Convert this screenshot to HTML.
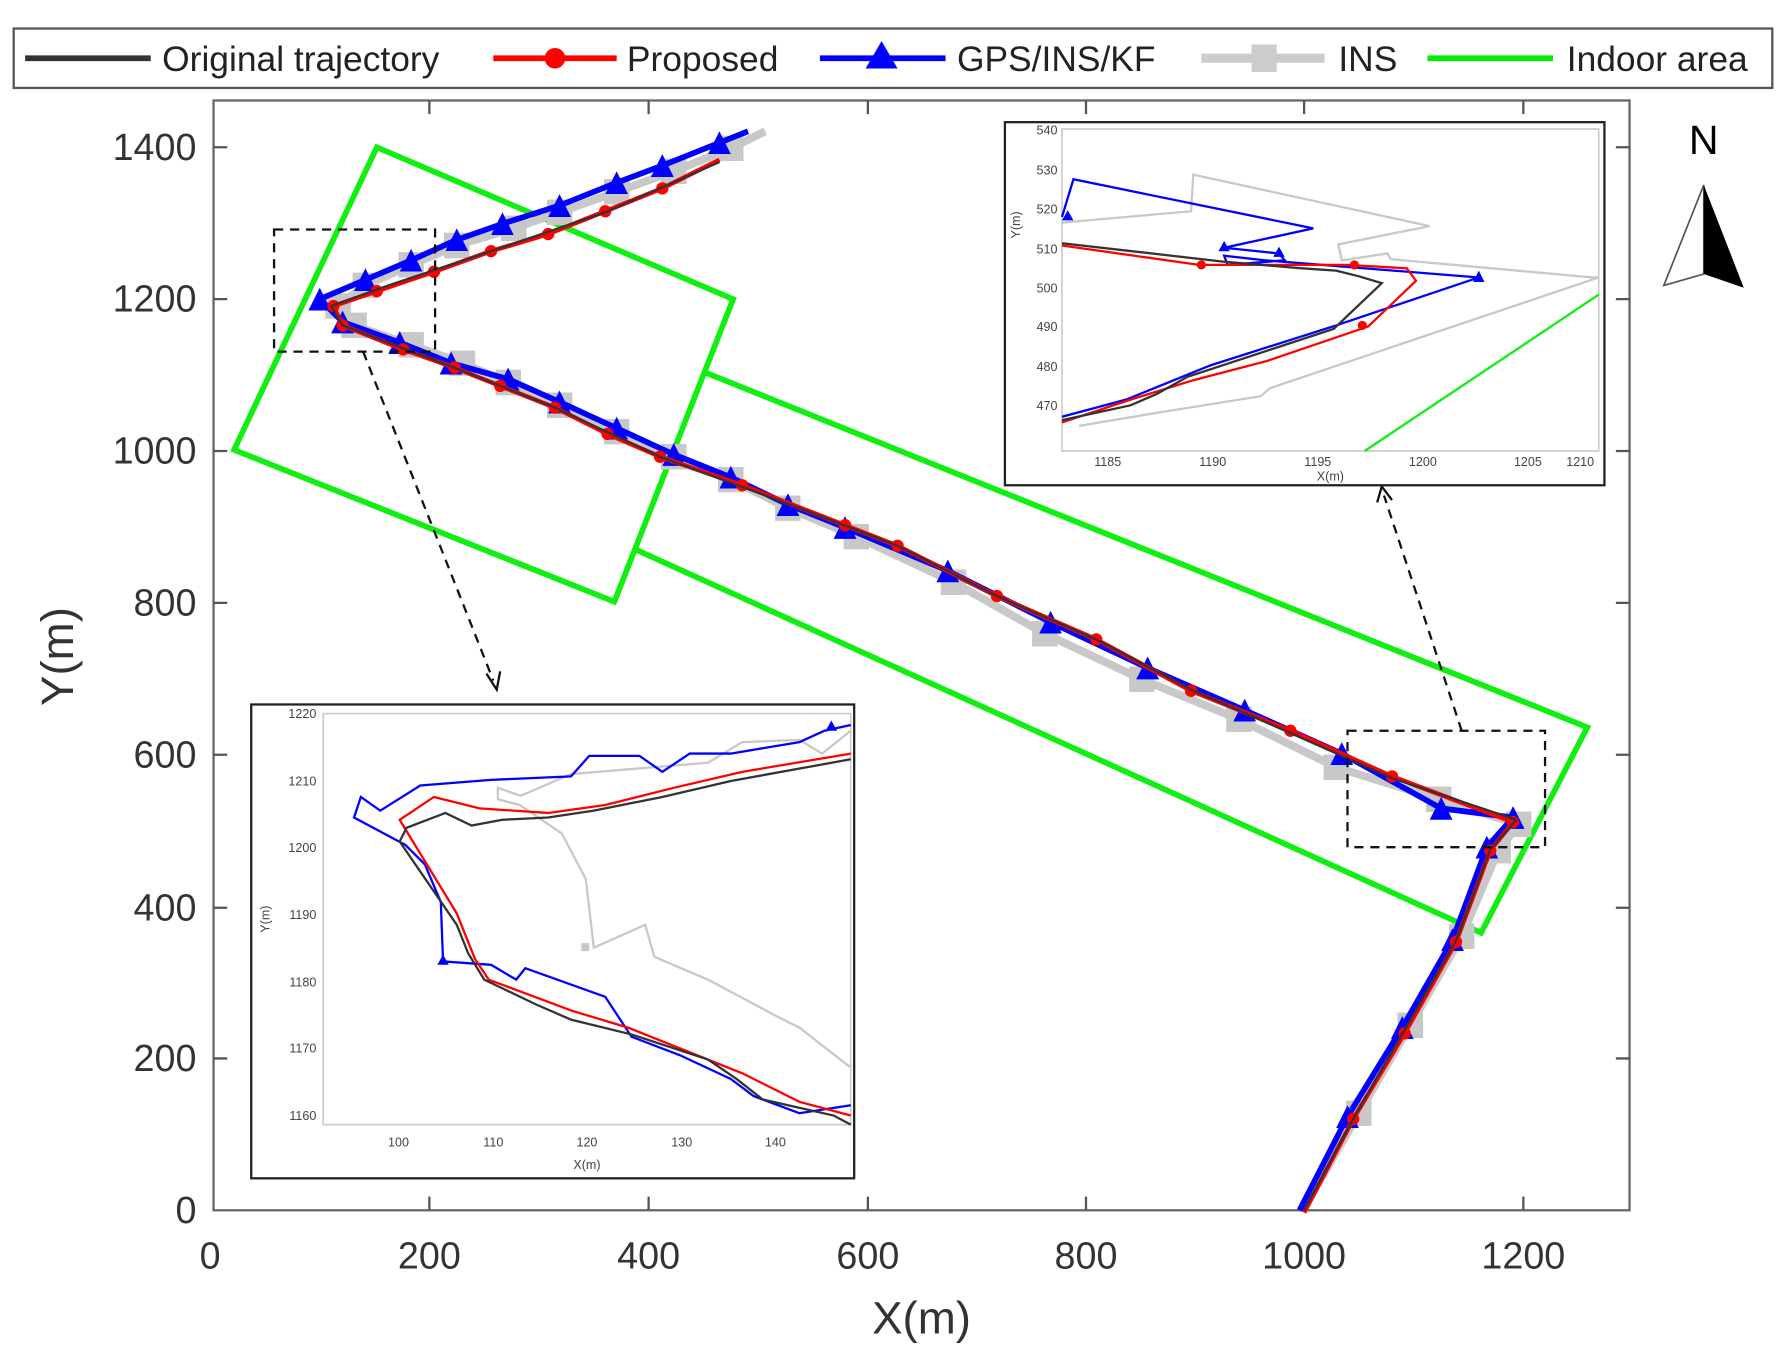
<!DOCTYPE html>
<html><head><meta charset="utf-8"><style>html,body{margin:0;padding:0;background:#fff}svg{display:block}</style></head>
<body>
<svg width="1786" height="1361" viewBox="0 0 1564 1192" preserveAspectRatio="none" xmlns="http://www.w3.org/2000/svg" font-family="Liberation Sans, sans-serif">
<defs>
<marker id="ci" viewBox="0 0 10 10" refX="5" refY="5" markerWidth="3" markerHeight="3"><circle cx="5" cy="5" r="4.5" fill="#f00"/></marker>
<marker id="tr" viewBox="0 0 10 10" refX="5" refY="5" markerWidth="4" markerHeight="4"><polygon points="5,0 10,10 0,10" fill="#00f"/></marker>
<marker id="sq" viewBox="0 0 10 10" refX="5" refY="5" markerWidth="3.2" markerHeight="3.2"><rect width="10" height="10" fill="#c8c8c8"/></marker>
</defs>
<!-- legend -->
<rect x="12" y="25" width="1540" height="52" fill="#fff" stroke="#555" stroke-width="2"/>
<g font-size="31" fill="#222">
<line x1="22" y1="51" x2="132" y2="51" stroke="#333" stroke-width="5"/><text x="142" y="62">Original trajectory</text>
<line x1="432" y1="51" x2="540" y2="51" stroke="#f00" stroke-width="5"/><circle cx="486" cy="51" r="9" fill="#f00"/><text x="549" y="62">Proposed</text>
<line x1="718" y1="51" x2="828" y2="51" stroke="#00f" stroke-width="5"/><polygon points="772,36 786,60 758,60" fill="#00f"/><text x="838" y="62">GPS/INS/KF</text>
<line x1="1052" y1="51" x2="1160" y2="51" stroke="#ccc" stroke-width="8"/><rect x="1096" y="39" width="22" height="24" fill="#ccc"/><text x="1172" y="62">INS</text>
<line x1="1250" y1="51" x2="1360" y2="51" stroke="#0e0" stroke-width="5"/><text x="1372" y="62">Indoor area</text>
</g>
<!-- axes -->
<rect x="187" y="88" width="1240" height="972" fill="none" stroke="#666" stroke-width="2"/>
<g stroke="#555" stroke-width="2">
<path d="M376 1060v-12M568 1060v-12M760 1060v-12M951 1060v-12M1142 1060v-12M1334 1060v-12M376 88v12M568 88v12M760 88v12M951 88v12M1142 88v12M1334 88v12"/>
<path d="M187 927h12M187 795h12M187 661h12M187 528h12M187 395h12M187 262h12M187 129h12M1427 927h-12M1427 795h-12M1427 661h-12M1427 528h-12M1427 395h-12M1427 262h-12M1427 129h-12"/>
</g>
<g font-size="33" fill="#333" text-anchor="middle">
<text x="184" y="1111">0</text><text x="376" y="1111">200</text><text x="568" y="1111">400</text><text x="760" y="1111">600</text><text x="951" y="1111">800</text><text x="1142" y="1111">1000</text><text x="1334" y="1111">1200</text>
</g>
<g font-size="33" fill="#333" text-anchor="end">
<text x="172" y="1071">0</text><text x="172" y="938">200</text><text x="172" y="806">400</text><text x="172" y="672">600</text><text x="172" y="539">800</text><text x="172" y="406">1000</text><text x="172" y="273">1200</text><text x="172" y="140">1400</text>
</g>
<text x="807" y="1168" font-size="40" fill="#333" text-anchor="middle">X(m)</text>
<text transform="translate(64,575) rotate(-90)" font-size="40" fill="#333" text-anchor="middle">Y(m)</text>
<!-- green -->
<g fill="none" stroke="#1e1" stroke-width="5">
<polygon points="330,129 642,262 538,527 205,394"/>
<polyline points="617,326 1390,637 1297,817 556,481"/>
</g>
<!-- trajectories -->
<g fill="none" stroke-linejoin="round">
<polyline stroke="#c8c8c8" stroke-width="7" marker-mid="url(#sq)" points="1142,1058 1190,975 1235,898 1280,820 1312,745 1330,722 1260,700 1170,672 1085,630 1000,595 915,555 835,510 750,470 690,445 640,420 590,400 540,378 490,355 445,335 405,318 360,302 310,285 296,268 320,250 360,232 400,215 450,200 490,186 540,168 590,150 640,130 670,115"/>
<polyline stroke="#00f" stroke-width="5" marker-mid="url(#tr)" points="1138,1060 1180,978 1228,900 1272,823 1302,742 1325,716 1262,708 1175,660 1090,622 1005,585 920,545 830,500 740,462 690,442 640,418 590,398 540,375 490,352 445,332 395,318 350,300 300,282 280,262 320,245 360,228 400,210 440,196 490,180 540,160 580,145 630,125 655,115"/>
<polyline stroke="#f00" stroke-width="4" marker-mid="url(#ci)" points="1142,1062 1185,980 1230,905 1275,825 1305,745 1325,720 1219,680 1130,640 1043,605 960,560 873,522 786,478 740,460 650,425 578,400 532,380 486,357 438,338 398,322 353,306 300,285 292,268 330,255 380,238 430,220 480,205 530,185 580,165 630,140"/>
<polyline stroke="#333" stroke-width="2" points="1142,1060 1185,980 1230,902 1275,824 1305,744 1328,718 1220,682 1130,642 1043,604 960,560 873,522 786,478 700,445 578,400 486,357 398,322 300,285 290,268 340,250 430,220 530,186 630,142"/>
</g>
<!-- dashed boxes & arrows -->
<g fill="none" stroke="#111" stroke-width="2" stroke-dasharray="8,6">
<rect x="240" y="201" width="141" height="107"/>
<rect x="1180" y="640" width="173" height="102"/>
<line x1="318" y1="308" x2="432" y2="596"/>
<line x1="1280" y1="640" x2="1212" y2="434"/>
</g>
<polyline points="426,590 435,604 438,588" fill="none" stroke="#111" stroke-width="2"/>
<polyline points="1206,440 1210,426 1219,438" fill="none" stroke="#111" stroke-width="2"/>
<!-- compass -->
<text x="1492" y="135" font-size="36" text-anchor="middle" fill="#000">N</text>
<polygon points="1492,162 1457,250 1492,240" fill="#fff" stroke="#555" stroke-width="1.5"/>
<polygon points="1492,162 1492,240 1527,252" fill="#000"/>
<!-- left inset -->
<rect x="220" y="617" width="528" height="415" fill="#fff" stroke="#222" stroke-width="2"/>
<rect x="283" y="625" width="462" height="360" fill="none" stroke="#ccc" stroke-width="1.5"/>
<g font-size="11" fill="#444">
<text x="349" y="1004" text-anchor="middle">100</text><text x="432" y="1004" text-anchor="middle">110</text><text x="514" y="1004" text-anchor="middle">120</text><text x="597" y="1004" text-anchor="middle">130</text><text x="679" y="1004" text-anchor="middle">140</text>
<text x="514" y="1024" text-anchor="middle">X(m)</text>
<text x="277" y="981" text-anchor="end">1160</text><text x="277" y="922" text-anchor="end">1170</text><text x="277" y="864" text-anchor="end">1180</text><text x="277" y="805" text-anchor="end">1190</text><text x="277" y="746" text-anchor="end">1200</text><text x="277" y="688" text-anchor="end">1210</text><text x="277" y="629" text-anchor="end">1220</text>
<text transform="translate(236,805) rotate(-90)" text-anchor="middle">Y(m)</text>
</g>
<g fill="none" stroke-width="2">
<polyline stroke="#c8c8c8" points="745,935 700,900 680,890 620,858 573,838 565,810 520,830 513,770 492,730 470,715 455,705 436,700 436,690 456,697 500,678 620,668 650,650 700,648 720,660 745,640"/>
<polyline stroke="#00f" points="745,968 700,975 660,960 640,945 595,924 553,908 530,873 460,848 452,858 430,845 388,842 386,790 372,757 355,740 310,716 316,698 333,710 368,688 430,683 500,680 516,662 560,662 580,676 604,660 640,660 700,650 722,640 745,635"/>
<polyline stroke="#f00" points="745,977 700,965 650,940 600,920 550,900 500,885 460,870 428,858 416,840 400,800 350,718 380,698 420,708 480,712 530,705 590,690 650,676 745,660"/>
<polyline stroke="#333" points="745,985 730,977 668,963 645,945 620,928 553,906 500,893 470,880 424,858 410,835 400,810 350,737 356,725 390,712 413,723 440,718 480,716 520,710 580,698 640,684 745,665"/>
</g>
<polygon points="388,836 393,845 383,845" fill="#00f"/><polygon points="728,631 733,640 723,640" fill="#00f"/><rect x="509" y="826" width="7" height="7" fill="#c8c8c8"/>
<!-- right inset -->
<rect x="880" y="107" width="525" height="318" fill="#fff" stroke="#222" stroke-width="2"/>
<rect x="930" y="113" width="470" height="282" fill="none" stroke="#ccc" stroke-width="1.5"/>
<g font-size="11" fill="#444">
<text x="970" y="408" text-anchor="middle">1185</text><text x="1062" y="408" text-anchor="middle">1190</text><text x="1154" y="408" text-anchor="middle">1195</text><text x="1246" y="408" text-anchor="middle">1200</text><text x="1338" y="408" text-anchor="middle">1205</text><text x="1396" y="408" text-anchor="end">1210</text>
<text x="1165" y="421" text-anchor="middle">X(m)</text>
<text x="926" y="359" text-anchor="end">470</text><text x="926" y="325" text-anchor="end">480</text><text x="926" y="290" text-anchor="end">490</text><text x="926" y="256" text-anchor="end">500</text><text x="926" y="222" text-anchor="end">510</text><text x="926" y="187" text-anchor="end">520</text><text x="926" y="153" text-anchor="end">530</text><text x="926" y="118" text-anchor="end">540</text>
<text transform="translate(893,197) rotate(-90)" text-anchor="middle">Y(m)</text>
</g>
<g fill="none" stroke-width="2">
<polyline stroke="#c8c8c8" points="945,373 1010,362 1104,347 1112,340 1400,243 1395,243 1218,227 1215,222 1175,228 1172,214 1252,198 1045,153 1043,185 930,195"/>
<polyline stroke="#1e1" points="1195,395 1400,258"/>
<polyline stroke="#00f" points="930,365 986,350 1060,320 1170,285 1295,243 1108,228 1072,224 1075,232 1125,228 1120,222 1072,217 1150,200 940,157 930,190"/>
<polyline stroke="#f00" points="930,370 990,350 1045,333 1110,316 1198,286 1240,246 1232,235 1180,232 1050,232 930,215"/>
<polyline stroke="#333" points="930,368 990,355 1013,345 1040,330 1168,288 1210,248 1190,242 1170,237 1140,235 1070,229 930,213"/>
</g>
<circle cx="1052" cy="232" r="4" fill="#f00"/><circle cx="1186" cy="232" r="4" fill="#f00"/><circle cx="1193" cy="285" r="4" fill="#f00"/>
<polygon points="1295,237 1300,247 1290,247" fill="#00f"/><polygon points="1072,211 1077,220 1067,220" fill="#00f"/><polygon points="1120,216 1125,225 1115,225" fill="#00f"/><polygon points="935,184 940,193 930,193" fill="#00f"/>
</svg>
</body></html>
